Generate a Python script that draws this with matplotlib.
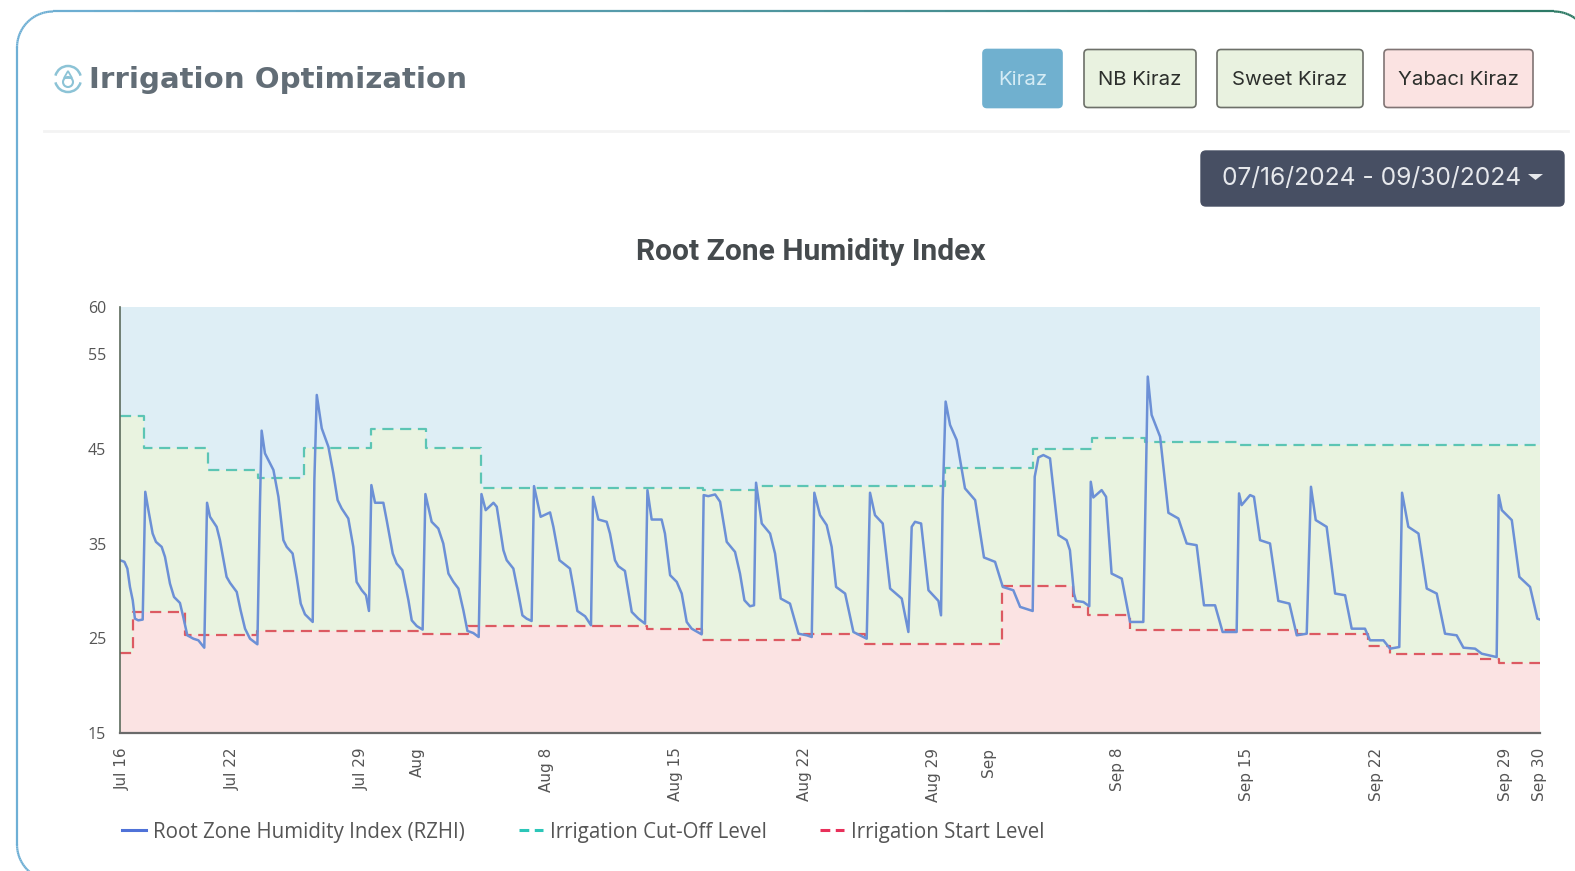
import numpy as np
import matplotlib
matplotlib.use('Agg')
import matplotlib.pyplot as plt
from matplotlib.collections import LineCollection
from matplotlib.lines import Line2D
from matplotlib.patches import FancyBboxPatch, Arc, Circle, Polygon

# days since Jul 16
rzhi_days = [0,.24,.40,.54,.69,.81,.99,1.23,1.37,1.54,1.77,1.95,2.26,2.44,2.71,2.93,3.25,3.43,3.65,3.98,4.25,4.57,
    4.72,4.88,5.24,5.42,5.78,5.97,6.33,6.54,6.78,7.05,7.45,7.59,7.68,7.86,8.32,8.59,8.86,9.04,9.36,9.58,9.8,10.03,10.45,
    10.54,10.67,10.94,11.3,11.57,11.8,12.02,12.38,12.65,12.83,13.11,13.34,13.5,13.63,13.83,14.28,14.46,14.79,15.0,15.31,15.64,15.82,16.09,16.41,
    16.56,16.9,17.26,17.53,17.81,18.08,18.35,18.62,18.84,19.16,19.45,19.6,19.83,20.25,20.43,20.79,20.97,21.33,21.6,21.82,22.05,22.32,
    22.45,22.81,23.32,23.5,23.83,24.4,24.58,24.8,25.22,25.54,25.65,25.94,26.39,26.57,26.84,27.02,27.38,27.75,28.11,28.47,
    28.6,28.83,29.37,29.55,29.83,30.19,30.46,30.73,31.0,31.54,31.65,31.9,32.27,32.54,32.9,33.35,33.62,33.86,34.16,34.38,
    34.49,34.8,35.25,35.52,35.83,36.33,36.79,37.24,37.51,37.65,37.96,38.32,38.59,38.83,39.32,39.77,40.49,
    40.67,40.94,41.36,41.76,42.39,42.75,42.93,43.11,43.44,43.84,44.38,44.52,44.61,44.77,45.01,45.37,45.82,46.37,46.85,47.45,47.87,48.44,48.81,49.49,
    49.6,49.8,50.07,50.43,50.89,51.33,51.51,51.73,51.84,52.24,52.56,52.64,52.78,53.23,53.47,53.77,54.32,54.77,55.49,
    55.73,55.94,56.4,56.85,57.39,57.84,58.38,58.78,59.38,59.79,60.55,60.68,60.82,61.28,61.49,61.82,62.36,62.81,63.41,63.81,64.35,
    64.58,64.84,65.43,65.89,66.43,66.79,67.51,67.78,68.51,68.87,69.37,69.52,69.86,70.41,70.86,71.4,71.85,72.48,72.85,73.48,73.84,74.65,
    74.76,74.93,75.47,75.88,76.46,76.86,77.0]
rzhi = [33.25,33.08,32.37,30.43,29.02,27.08,26.9,26.98,40.48,38.54,36.07,35.19,34.66,33.6,30.78,29.37,28.74,27.26,25.32,24.96,24.79,24.01,
    39.32,37.84,36.78,35.37,31.49,30.85,29.9,27.96,26.02,24.96,24.37,39.25,46.94,44.54,42.78,39.95,35.37,34.66,33.96,31.49,28.67,27.54,26.73,
    41.72,50.71,47.18,45.24,42.42,39.6,38.72,37.66,34.66,30.96,30.08,29.55,27.89,41.19,39.32,39.32,37.49,33.96,32.9,32.2,29.02,26.9,26.3,25.92,
    40.24,37.31,36.6,35.02,31.84,30.96,30.26,27.96,25.78,25.56,25.14,40.24,38.54,39.32,38.9,34.31,33.25,32.37,29.73,27.43,27.08,26.83,
    41.08,37.84,38.3,36.78,33.25,32.37,30.43,27.89,27.33,26.38,39.95,37.55,37.31,36.07,33.25,32.62,32.12,27.79,27.08,26.55,
    40.66,37.55,37.55,36.07,31.67,30.96,29.73,26.73,26.02,25.42,40.13,40.02,40.2,39.43,35.19,34.13,31.84,29.02,28.39,28.49,
    41.44,37.13,36.07,33.96,29.2,28.67,25.49,25.32,25.14,40.38,38.01,36.96,34.66,30.43,29.73,25.67,24.96,
    40.38,38.01,37.13,30.26,29.2,25.67,36.78,37.31,37.13,30.08,28.95,27.43,39.6,50.01,47.54,45.95,40.84,39.6,33.54,33.08,30.43,30.08,28.32,27.89,
    42.07,44.11,44.36,44.01,35.9,35.37,34.31,29.73,28.95,28.84,28.39,41.54,39.88,40.66,39.95,31.84,31.31,26.73,26.73,
    52.65,48.6,46.3,38.26,37.66,35.02,34.84,28.49,28.49,25.67,25.67,40.31,39.07,40.13,39.95,35.37,35.02,28.95,28.67,25.32,25.49,
    41.01,37.49,36.78,29.73,29.55,26.02,26.02,24.79,24.79,23.91,24.08,40.38,36.78,36.07,30.26,29.73,25.49,25.32,24.01,23.91,23.38,23.02,
    40.13,38.54,37.49,31.49,30.43,27.08,26.98]

cutoff_days = [0,1.3,4.76,7.5,10.0,13.6,16.58,19.6,31.6,34.5,44.74,49.53,52.69,55.6,60.64,77]
cutoff = [48.5,45.14,42.78,41.96,45.14,47.08,45.07,40.84,40.66,41.12,42.95,44.96,46.2,45.77,45.38,45.38]

start_days = [0,.72,3.5,7.41,16.36,18.89,28.56,31.54,36.88,40.4,47.81,51.7,52.5,54.77,63.81,67.69,68.87,73.75,74.75,77]
start = [23.48,27.79,25.32,25.78,25.49,26.27,26.02,24.86,25.42,24.44,30.54,28.32,27.5,25.85,25.42,24.15,23.38,22.78,22.39,22.39]

x_ticks = [0,6,13,16,23,30,37,44,47,54,61,68,75,76.85]
x_labels = ['Jul 16','Jul 22','Jul 29','Aug','Aug 8','Aug 15','Aug 22','Aug 29','Sep','Sep 8','Sep 15','Sep 22','Sep 29','Sep 30']
y_ticks = [15,25,35,45,55,60]

buttons = ['Kiraz','NB Kiraz','Sweet Kiraz','Yabacı Kiraz']
series_names = ['Root Zone Humidity Index (RZHI)','Irrigation Cut-Off Level','Irrigation Start Level']

W, H = 1575, 871
fig = plt.figure(figsize=(W/100, H/100), dpi=100, facecolor='white')

# page furniture, in pixel coordinates
bg = fig.add_axes([0,0,1,1])
bg.set_xlim(0,W)
bg.set_ylim(H,0)
bg.axis('off')

# card outline as a polyline, curves get mangled when clipped at the canvas edge
def corner(cx,cy,a0,a1,r=36):
    a = np.radians(np.linspace(a0,a1,30))
    return np.column_stack([cx+r*np.cos(a),cy+r*np.sin(a)])

outline = np.vstack([corner(53,844.5,90,180),corner(53,47.5,180,270),corner(1554,47.5,270,360),corner(1554,844.5,0,90)])
dense = []
for p,q in zip(outline[:-1],outline[1:]):
    n = max(int(np.hypot(*(q-p))/40),1)
    dense.append(p+(q-p)*np.linspace(0,1,n,endpoint=False)[:,None])
dense = np.vstack(dense)
segs = np.stack([dense[:-1],dense[1:]],axis=1)
c0 = np.array([0x6f,0xb0,0xd6])/255
c1 = np.array([0x2b,0x78,0x62])/255
t = np.clip(segs[:,0,0]/W,0,1)[:,None]
bg.add_collection(LineCollection(segs,colors=c0*(1-t)+c1*t,linewidths=1.6))

bg.plot([44,1568],[131,131],color='#f3f3f3',lw=2)

# icon next to the heading
ic = '#8cc3d6'
bg.add_patch(Arc((68,79),26,26,theta1=15,theta2=165,color=ic,lw=1.8))
bg.add_patch(Arc((68,79),26,26,theta1=195,theta2=345,color=ic,lw=1.8))
bg.add_patch(Circle((68,82),5,fc='none',ec=ic,lw=1.5))
bg.add_patch(Polygon([[64,78],[68,71],[72,78]],fc='none',ec=ic,lw=1.3))
bg.text(89,79.5,'Irrigation Optimization',fontsize=21.1,fontweight='bold',family='DejaVu Sans',color='#626d76',va='center',ha='left')

btn_x = [(983,1062),(1084,1196),(1217,1363),(1384,1533)]
btn_fc = ['#70b0cf','#e9f2e0','#e9f2e0','#fbe3e2']
btn_ec = ['#70b0cf','#6d7069','#6d7069','#807474']
btn_tc = ['#d5ecf5','#2c2f2c','#2c2f2c','#2c2f2c']
for (a,b),fc_,ec_,tc,name in zip(btn_x,btn_fc,btn_ec,btn_tc,buttons):
    bg.add_patch(FancyBboxPatch((a,49.5),b-a,58,boxstyle='round,pad=0,rounding_size=4',fc=fc_,ec=ec_,lw=1.2))
    bg.text((a+b)/2,80,name,fontsize=14.7,family='Inter',color=tc,ha='center',va='center')

bg.add_patch(FancyBboxPatch((1201,151),363,55,boxstyle='round,pad=0,rounding_size=5',fc='#474f63',ec='#474f63',lw=1))
bg.text(1222,179,'07/16/2024 - 09/30/2024',fontsize=17.7,family='Inter',color='#e6e8ec',ha='left',va='center')
bg.add_patch(Polygon([[1528,174],[1543,174],[1535.5,180]],fc='#e6e8ec',ec='none'))

bg.text(811,252,'Root Zone Humidity Index',fontsize=21.6,fontweight='bold',family='Roboto',color='#454a4d',ha='center',va='center')

# the chart itself
ax = fig.add_axes([120/W,1-733/H,(1540-120)/W,(733-307)/H])
grid = np.array(sorted(set(cutoff_days+start_days)))
cut_i = np.array(cutoff)[np.searchsorted(cutoff_days,grid,side='right')-1]
start_i = np.array(start)[np.searchsorted(start_days,grid,side='right')-1]
ax.fill_between(grid,cut_i,60,step='post',color='#deeef5',lw=0)
ax.fill_between(grid,start_i,cut_i,step='post',color='#e9f3e0',lw=0)
ax.fill_between(grid,15,start_i,step='post',color='#fbe3e3',lw=0)

ax.step(cutoff_days,cutoff,where='post',color='#5cc5b4',lw=1.6,ls=(0,(5,3)))
ax.step(start_days,start,where='post',color='#dc5a62',lw=1.6,ls=(0,(5,3)))
ax.plot(rzhi_days,rzhi,color='#6c90d6',lw=1.8,solid_joinstyle='round')

# rotated labels sit about 2px left of their tick, nudge them
ax.set_xticks(np.array(x_ticks)+.11)
ax.set_xticklabels(x_labels,rotation=90,fontsize=11,color='#555555')
ax.set_xlim(0,77)
ax.set_ylim(15,60)
ax.set_yticks(y_ticks)
ax.set_yticklabels([str(v) for v in y_ticks],fontsize=11.5,family='Open Sans',color='#555555')
ax.tick_params(axis='x',length=0,pad=10.5)
ax.tick_params(axis='y',length=0,pad=10)
for s in ['top','right']:
    ax.spines[s].set_visible(False)
ax.spines['left'].set_color('#5c6b5c')
ax.spines['left'].set_linewidth(1.2)
ax.spines['bottom'].set_color('#6a6a6a')
ax.spines['bottom'].set_linewidth(1.6)

handles = [Line2D([],[],color='#4f72d8',lw=2.2),
           Line2D([],[],color='#2cc6b8',lw=2.2,ls=(0,(3.2,1.8))),
           Line2D([],[],color='#e8305a',lw=2.2,ls=(0,(3.2,1.8)))]
leg = fig.legend(handles,series_names,ncol=3,frameon=False,loc='center left',bbox_to_anchor=(122/W,1-832/H),
    prop={'family':'Open Sans','size':14.8},handlelength=1.17,handletextpad=.34,columnspacing=2.62,borderpad=0,borderaxespad=0)
for t_ in leg.get_texts():
    t_.set_color('#555555')

fig.savefig('out.png',dpi=100)
